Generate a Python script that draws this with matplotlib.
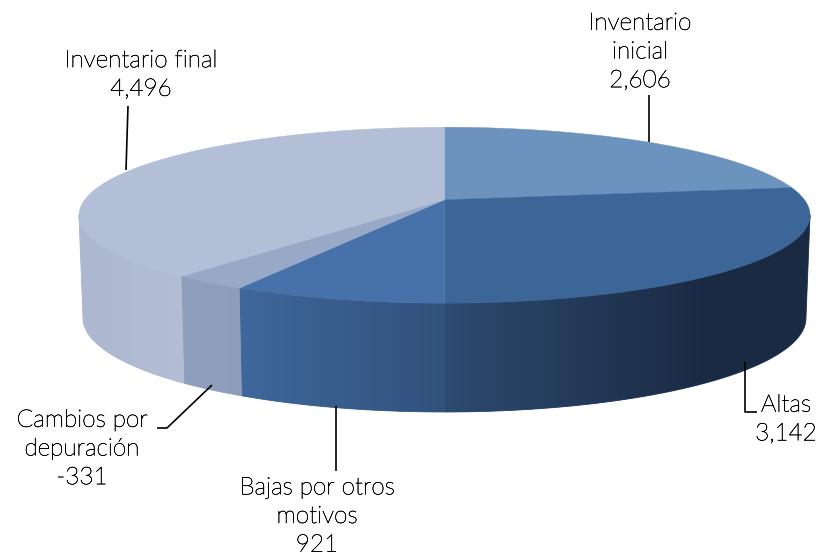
import numpy as np
import matplotlib
matplotlib.use("Agg")
import matplotlib.pyplot as plt
import matplotlib.patheffects as pe
from matplotlib.colors import to_rgb
from matplotlib.patches import Polygon

# Values in pie order, clockwise from the top
labels = ["Inventario\ninicial", "Altas", "Bajas por otros\nmotivos", "Cambios por\ndepuración", "Inventario final"]
values = [2606, 3142, 921, -331, 4496]
value_text = ["2,606", "3,142", "921", "-331", "4,496"]

top_colors = ["#6b93be", "#3c6698", "#4672a9", "#98a9c8", "#b3bfd6"]
side_left = ["#6b93be", "#2d4a70", "#3f689c", "#8f9fbe", "#adb8d0"]
side_right = ["#6b93be", "#1a2a43", "#31517b", "#8e9eba", "#b3bdd3"]
grad_end = [1, 0.72, 1, 1, 1]   # where the wall gradient reaches its right colour

# 3D look of the pie: perspective of the top and the bottom plane
cx = 444.5
k = 0.175
top = dict(s=359.9, a=85.3, y0=199.8)
bottom = dict(s=355.9, a=91.1, y0=301.55)


def project(theta, plane):
    # theta in degrees, clockwise from 12 o'clock
    t = np.radians(theta)
    d = 1 + k * np.cos(t)
    return cx + plane["s"] * np.sin(t) / d, plane["y0"] - plane["a"] * np.cos(t) / d


fig = plt.figure(figsize=(8.2, 5.59), dpi=100)
ax = fig.add_axes([0, 0, 1, 1])

sizes = np.abs(values)
edges = np.concatenate([[0], np.cumsum(sizes)]) / sizes.sum() * 360
vis_start = np.degrees(np.arccos(-k))
vis_end = 360 - vis_start

# side wall: a gradient image clipped to each slice's wall
for i in range(len(values)):
    a0 = max(edges[i], vis_start)
    a1 = min(edges[i + 1], vis_end)
    if a1 <= a0:
        continue
    th = np.linspace(a0, a1, 200)
    xt, yt = project(th, top)
    xb, yb = project(th[::-1], bottom)
    pts = list(zip(xt, yt)) + list(zip(xb, yb))
    xr = max(xt.max(), xb.max())
    xl = min(xt.min(), xb.min())
    c_r, c_l = np.array(to_rgb(side_right[i])), np.array(to_rgb(side_left[i]))
    g = np.clip(np.linspace(0, 1, 256) / grad_end[i], 0, 1)
    grad = g[:, None] * (c_r - c_l) + c_l
    im = ax.imshow(grad[None, :, :], extent=(xl - 1, xr + 1, 450, 150), aspect="auto",
                   interpolation="bilinear", zorder=1)
    # same colour as the wall start under the seam
    patch = Polygon(pts, closed=True, facecolor=side_left[i], edgecolor=side_left[i], lw=0.6, zorder=0.5)
    ax.add_patch(patch)
    im.set_clip_path(patch)

# top face
for i in range(len(values)):
    th = np.linspace(edges[i], edges[i + 1], 200)
    xs, ys = project(th, top)
    pts = [(cx, top["y0"])] + list(zip(xs, ys))
    ax.add_patch(Polygon(pts, closed=True, facecolor=top_colors[i], edgecolor=top_colors[i],
                         lw=0.3, zorder=2))

ax.set_xlim(0, 820)
ax.set_ylim(559, 0)
ax.axis("off")

# leader lines
line_kw = dict(color="black", lw=1.2, solid_capstyle="butt", zorder=3)
ax.plot([649, 649], [95, 142], **line_kw)
ax.plot([128, 126], [106, 170], **line_kw)
ax.plot([745.5, 745.5, 757], [362, 412, 412], **line_kw)
ax.plot([336, 336], [406, 471], **line_kw)
ax.plot([212, 167, 157], [385, 428, 428], **line_kw)

# data labels
txt = dict(family="Lato", weight="light", fontsize=17.5, color="black",
           ha="center", va="center", linespacing=1.45,
           path_effects=[pe.withStroke(linewidth=0.35, foreground="black")])
pos = [(640, 52), (786, 419.5), (317, 516.5), (82, 449), (141, 75)]
for i in range(len(values)):
    ax.text(pos[i][0], pos[i][1], labels[i] + "\n" + value_text[i], **txt)

fig.savefig("out.png", dpi=100)
